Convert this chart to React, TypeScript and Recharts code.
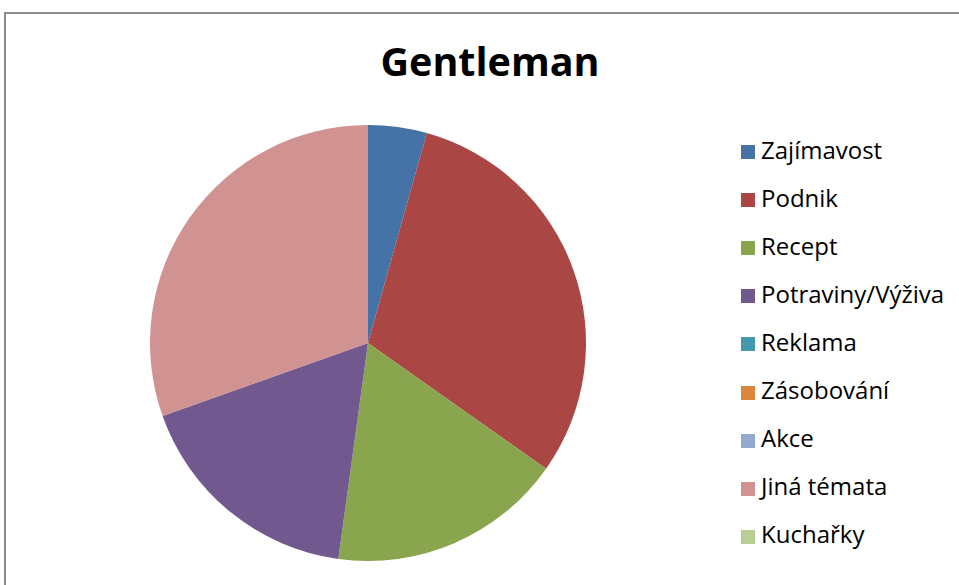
import React from "react";
import { PieChart, Pie, Cell } from "recharts";

const categories = [
  "Zajímavost",
  "Podnik",
  "Recept",
  "Potraviny/Výživa",
  "Reklama",
  "Zásobování",
  "Akce",
  "Jiná témata",
  "Kuchařky",
];
const values = [1, 7, 4, 4, 0, 0, 0, 7, 0];
const colors = [
  "#4572A7",
  "#AA4643",
  "#89A54E",
  "#71588F",
  "#4198AF",
  "#DB843D",
  "#93A9CF",
  "#D19392",
  "#B9CD96",
];
const title = "Gentleman";

const data = categories.map((name, i) => ({ name, value: values[i] }));

const FONT = "'Open Sans', 'Noto Sans', sans-serif";

const LEGEND_TOP = 152;
const LEGEND_STEP = 48.1;

export default function App() {
  return (
    <div
      style={{
        position: "absolute",
        left: 0,
        top: 0,
        width: 959,
        height: 585,
        background: "#fff",
        overflow: "hidden",
      }}
    >
      <div
        style={{
          position: "absolute",
          left: 4,
          top: 12,
          width: 980,
          height: 600,
          border: "2px solid #8c8c8c",
          boxSizing: "border-box",
        }}
      />
      <div
        style={{
          position: "absolute",
          left: 0,
          top: 36,
          width: 980,
          textAlign: "center",
          fontFamily: FONT,
          fontWeight: 700,
          fontSize: 39.5,
          lineHeight: "50px",
          color: "#000",
        }}
      >
        {title}
      </div>
      <div style={{ position: "absolute", left: 0, top: 0 }}>
        <PieChart width={959} height={585} margin={{ top: 0, right: 0, bottom: 0, left: 0 }}>
          <Pie
            data={data}
            dataKey="value"
            nameKey="name"
            cx={368}
            cy={343}
            outerRadius={218}
            innerRadius={0}
            startAngle={90}
            endAngle={-270}
            stroke="none"
            isAnimationActive={false}
            label={false}
            labelLine={false}
          >
            {data.map((d, i) => (
              <Cell key={d.name} fill={colors[i]} stroke="none" />
            ))}
          </Pie>
        </PieChart>
      </div>
      {categories.map((name, i) => {
        const c = LEGEND_TOP + i * LEGEND_STEP;
        return (
          <React.Fragment key={name}>
            <div
              style={{
                position: "absolute",
                left: 741,
                top: c - 7,
                width: 14,
                height: 14,
                background: colors[i],
              }}
            />
            <div
              style={{
                position: "absolute",
                left: 761,
                top: c - 17.5,
                fontFamily: FONT,
                fontSize: 24,
                lineHeight: "30px",
                color: "#000",
                whiteSpace: "nowrap",
              }}
            >
              {name}
            </div>
          </React.Fragment>
        );
      })}
    </div>
  );
}
